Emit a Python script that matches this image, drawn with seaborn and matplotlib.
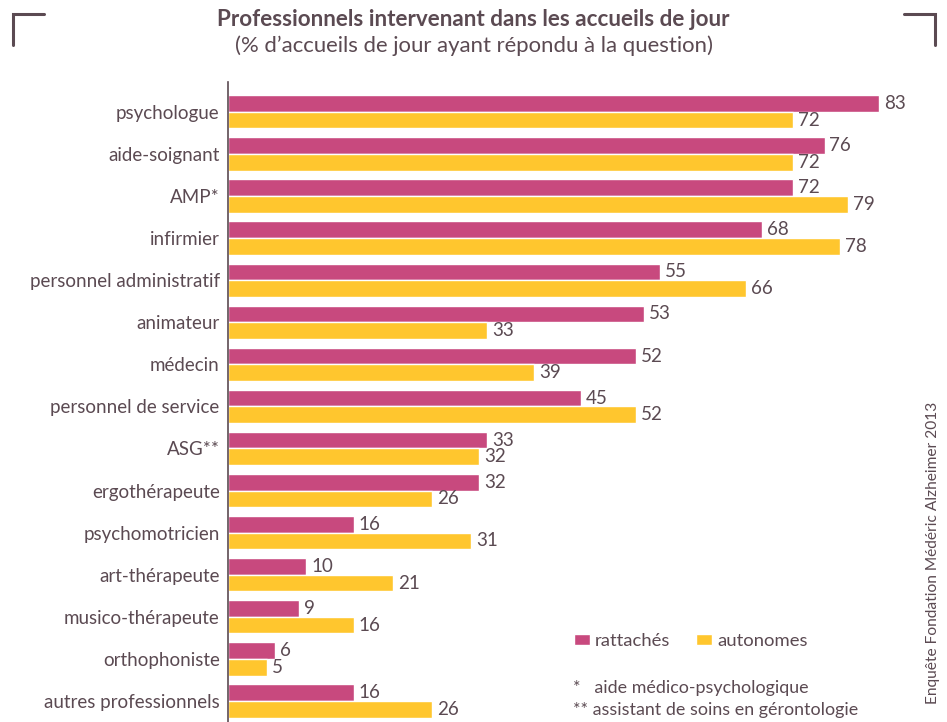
import matplotlib
matplotlib.use("Agg")
import matplotlib.pyplot as plt
import seaborn as sns
import pandas as pd
from matplotlib.lines import Line2D

categories = ["psychologue", "aide-soignant", "AMP*", "infirmier", "personnel administratif",
              "animateur", "médecin", "personnel de service", "ASG**", "ergothérapeute",
              "psychomotricien", "art-thérapeute", "musico-thérapeute", "orthophoniste",
              "autres professionnels"]
rattaches = [83, 76, 72, 68, 55, 53, 52, 45, 33, 32, 16, 10, 9, 6, 16]
autonomes = [72, 72, 79, 78, 66, 33, 39, 52, 32, 26, 31, 21, 16, 5, 26]
series = ["rattachés", "autonomes"]

magenta = "#C8497E"
yellow = "#FFC62E"
textc = "#5B4A52"

df = pd.DataFrame({
    "cat": categories * 2,
    "val": rattaches + autonomes,
    "type": [series[0]] * len(categories) + [series[1]] * len(categories),
})

sns.set_style("white")
plt.rcParams["font.family"] = ["Lato", "DejaVu Sans"]
plt.rcParams["text.color"] = textc

fig = plt.figure(figsize=(9.47, 7.22), dpi=100)
ax = fig.add_axes([228 / 947, 0.0, 675 / 947, 1 - 82 / 722])

sns.barplot(data=df, y="cat", x="val", hue="type", orient="h", palette=[magenta, yellow],
            width=0.79, saturation=1, ax=ax, errorbar=None)

for cont in ax.containers:
    ax.bar_label(cont, padding=3.5, fontsize=13.5, color=textc)

ax.set_xlim(0, 86)
ax.set_ylim(14.5, -0.71)
ax.set_xlabel("")
ax.set_ylabel("")
ax.set_xticks([])
ax.tick_params(axis="y", length=0, labelsize=13.5, labelcolor=textc, pad=6)
for s in ["top", "right", "bottom"]:
    ax.spines[s].set_visible(False)
ax.spines["left"].set_color(textc)
ax.spines["left"].set_linewidth(1.2)

sns.move_legend(ax, loc="center left", bbox_to_anchor=(574 / 947, 1 - 641 / 722),
                bbox_transform=fig.transFigure, ncol=2, frameon=False, title=None,
                fontsize=13.3, handlelength=0.85, handleheight=0.55, handletextpad=0.3,
                columnspacing=1.4, borderpad=0, borderaxespad=0)
for t in ax.get_legend().get_texts():
    t.set_color(textc)

fig.text(0.5, 1 - 20 / 722, "Professionnels intervenant dans les accueils de jour",
         ha="center", va="center", fontsize=16.2, fontweight="bold", color=textc)
fig.text(0.5, 1 - 46 / 722, "(% d’accueils de jour ayant répondu à la question)",
         ha="center", va="center", fontsize=15.9, color=textc)

fig.text(573 / 947, 1 - 688 / 722, "*   aide médico-psychologique", ha="left", va="center",
         fontsize=12.9, color=textc)
fig.text(573 / 947, 1 - 710 / 722, "** assistant de soins en gérontologie", ha="left", va="center",
         fontsize=12.9, color=textc)

fig.text(937 / 947, 1 - 402 / 722, "Enquête Fondation Médéric Alzheimer 2013", rotation=90,
         rotation_mode="anchor", ha="right", va="baseline", fontsize=11.2, color=textc)

# corner brackets
W, H = 947, 722
fig.add_artist(Line2D([13 / W, 13 / W, 44 / W], [1 - 45 / H, 1 - 14 / H, 1 - 14 / H],
                      color=textc, lw=2.2, solid_joinstyle="miter"))
fig.add_artist(Line2D([904 / W, 935 / W, 935 / W], [1 - 14 / H, 1 - 14 / H, 1 - 45 / H],
                      color=textc, lw=2.2, solid_joinstyle="miter"))

fig.savefig("out.png", dpi=100)
